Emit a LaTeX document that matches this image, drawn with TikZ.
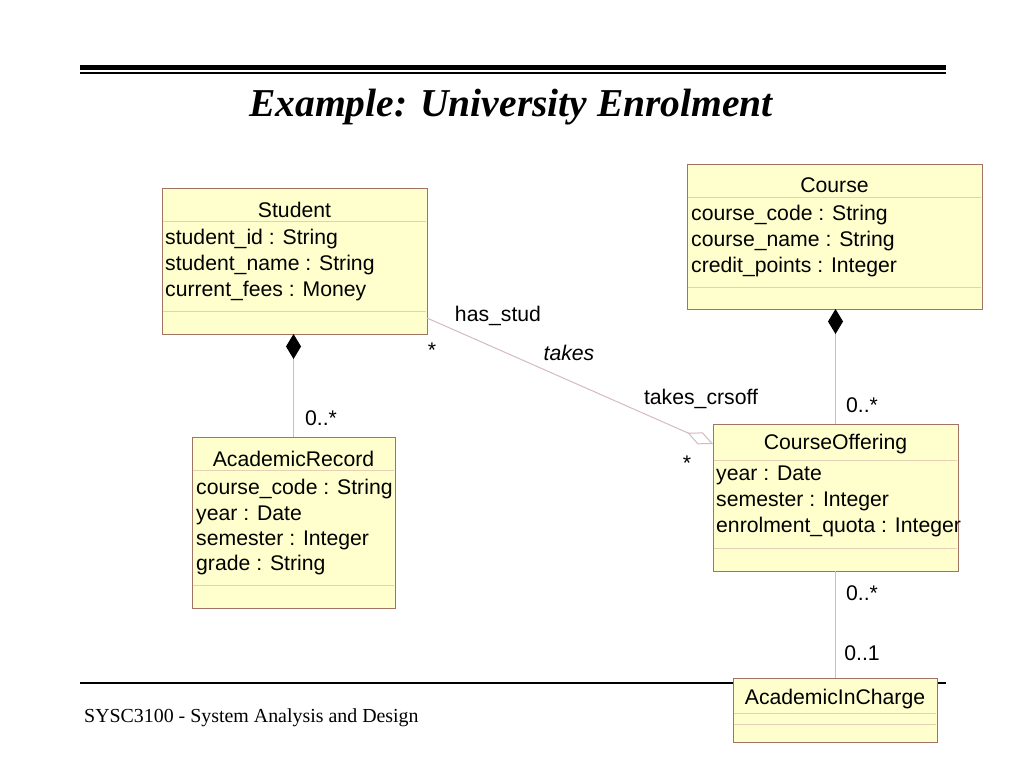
\documentclass[tikz,border=0pt]{standalone}
\usepackage{fontspec}
\setmainfont{Liberation Serif}
\newfontfamily\uml{Liberation Sans}
\usetikzlibrary{arrows.meta,calc}
\definecolor{boxfill}{RGB}{255,255,206}
\definecolor{boxline}{RGB}{160,115,100}
\definecolor{sepline}{RGB}{230,208,180}
\definecolor{connline}{RGB}{215,185,192}
\begin{document}
\begin{tikzpicture}[x=1pt,y=-1pt,
  classbox/.style={draw=boxline,fill=boxfill,line width=0.9pt,anchor=north west,inner sep=0pt,outer sep=0pt},
  sepl/.style={draw=sepline,line width=1pt},
  cname/.style={font=\uml\fontsize{21.2}{25}\selectfont,inner sep=0pt,anchor=center,yshift=-1.5pt},
  attr/.style={font=\uml\fontsize{21.2}{25}\selectfont,inner sep=0pt,anchor=west,yshift=-1.5pt},
  lbl/.style={font=\uml\fontsize{21.2}{25}\selectfont,inner sep=0pt,anchor=center,yshift=-1pt},
  conn/.style={draw=connline,line width=1pt},
]
\useasboundingbox (0,0) rectangle (1024,768);
\fill[white] (0,0) rectangle (1024,768);
% rules
\fill[black] (80,65) rectangle (946,70);
\draw[black,line width=1.4pt] (80,73) -- (946,73);
\draw[black,line width=1.4pt] (80,683) -- (946,683);
% title and footer
\node[font=\fontsize{39.5}{46}\selectfont\bfseries\itshape,inner sep=0pt] (title) at (511,107) {Example: University Enrolment};
\node[font=\fontsize{19.9}{24}\selectfont,inner sep=0pt,anchor=west] (footer) at (84,718) {SYSC3100 - System Analysis and Design};

% Student
\node[classbox,minimum width=265pt,minimum height=146pt] (student) at (162,188) {};
\draw[sepl] (162.6,221) -- (426.4,221);
\draw[sepl] (162.6,311) -- (426.4,311);
\node[cname] (studentn) at (294.5,208) {Student};
\node[attr] (sa1) at (165,238) {student\_id : String};
\node[attr] (sa2) at (165,264) {student\_name : String};
\node[attr] (sa3) at (165,290) {current\_fees : Money};

% Course
\node[classbox,minimum width=295pt,minimum height=145pt] (course) at (687,164) {};
\draw[sepl] (687.6,197) -- (981.4,197);
\draw[sepl] (687.6,287) -- (981.4,287);
\node[cname] (coursen) at (834.5,184) {Course};
\node[attr] (ca1) at (691,214) {course\_code : String};
\node[attr] (ca2) at (691,240) {course\_name : String};
\node[attr] (ca3) at (691,266) {credit\_points : Integer};

% AcademicRecord
\node[classbox,minimum width=203pt,minimum height=171pt] (arec) at (192,437) {};
\draw[sepl] (192.6,470) -- (394.4,470);
\draw[sepl] (192.6,585) -- (394.4,585);
\node[cname] (arecn) at (293.5,457) {AcademicRecord};
\node[attr] (ra1) at (196,488) {course\_code : String};
\node[attr] (ra2) at (196,514) {year : Date};
\node[attr] (ra3) at (196,539) {semester : Integer};
\node[attr] (ra4) at (196,564) {grade : String};

% CourseOffering
\node[classbox,minimum width=245pt,minimum height=147pt] (coff) at (713,424) {};
\draw[sepl] (713.6,460) -- (957.4,460);
\draw[sepl] (713.6,548) -- (957.4,548);
\node[cname] (coffn) at (835.5,443) {CourseOffering};
\node[attr] (oa1) at (716,474) {year : Date};
\node[attr] (oa2) at (716,500) {semester : Integer};
\node[attr] (oa3) at (716,526) {enrolment\_quota : Integer};

% AcademicInCharge
\node[classbox,minimum width=204pt,minimum height=64pt] (aic) at (733,678) {};
\draw[sepl] (733.6,713) -- (936.4,713);
\draw[sepl] (733.6,724) -- (936.4,724);
\node[cname] (aicn) at (835,698) {AcademicInCharge};

% connectors
\draw[conn,{Diamond[length=25pt,width=15pt,fill=black,color=black]}-] (student.south -| arec.north) -- (arec.north);
\draw[conn,{Diamond[length=25pt,width=15pt,fill=black,color=black]}-] (course.south -| coff.north) -- (coff.north);
\draw[conn] (coff.south -| aic.north) -- (aic.north);
\coordinate (assocA) at ($(student.south east)+(0,-16)$);
\coordinate (assocB) at ($(coff.north west)+(0,20)$);
\draw[conn,-{Diamond[open,length=28pt,width=13pt]}] (assocA) -- (assocB);

% labels
\node[lbl] (l1) at (498,315) {has\_stud};
\node[lbl] (l2) at (432,349) {*};
\node[lbl,font=\uml\itshape\fontsize{21.2}{25}\selectfont] (l3) at (569,352) {takes};
\node[lbl] (l4) at (701,398) {takes\_crsoff};
\node[lbl] (l5) at (687,462) {*};
\node[lbl] (l6) at (321,417) {0..*};
\node[lbl] (l7) at (862,404) {0..*};
\node[lbl] (l8) at (862,592) {0..*};
\node[lbl] (l9) at (862,652) {0..1};
\end{tikzpicture}
\end{document}
